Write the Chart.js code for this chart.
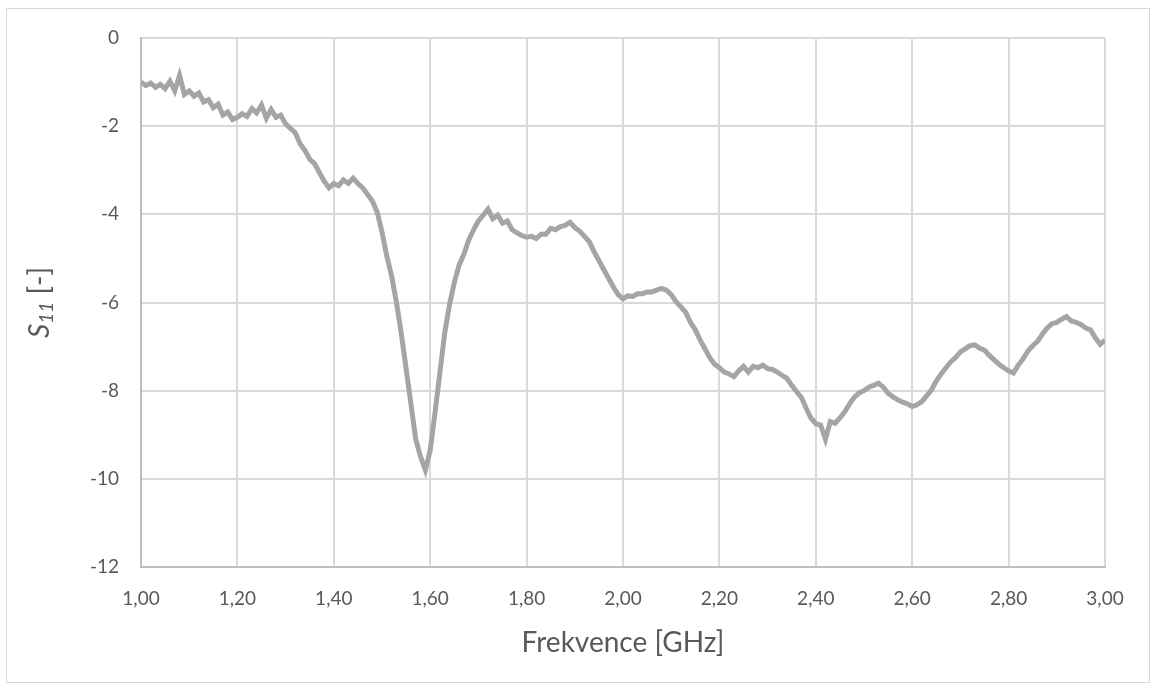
<!DOCTYPE html>
<html>
<head>
<meta charset="utf-8">
<script src="https://cdn.jsdelivr.net/npm/chart.js@4"></script>
<style>
  html, body { margin: 0; padding: 0; background: #fff; }
  #wrap { width: 1156px; height: 688px; position: relative; }
</style>
</head>
<body>
<div id="wrap"><canvas id="s11-chart"></canvas></div>
<script>
// Measured S11 sweep, 1.00 - 3.00 GHz, one reading every 10 MHz
const FREQ_START = 1.0;
const FREQ_STEP = 0.01;
const s11 = [
  -1.00, -1.08, -1.02, -1.12, -1.05, -1.15, -0.98, -1.20, -0.85, -1.28,
  -1.20, -1.32, -1.25, -1.45, -1.40, -1.58, -1.50, -1.75, -1.68, -1.85,
  -1.80, -1.72, -1.78, -1.60, -1.70, -1.52, -1.82, -1.62, -1.80, -1.75,
  -1.95, -2.05, -2.15, -2.40, -2.55, -2.75, -2.85, -3.05, -3.25, -3.40,
  -3.30, -3.35, -3.22, -3.30, -3.18, -3.30, -3.40, -3.55, -3.70, -3.95,
  -4.40, -4.95, -5.40, -6.00, -6.70, -7.50, -8.30, -9.10, -9.50, -9.80,
  -9.35, -8.50, -7.60, -6.70, -6.05, -5.55, -5.15, -4.90, -4.58, -4.35,
  -4.15, -4.02, -3.88, -4.10, -4.02, -4.20, -4.15, -4.35, -4.42, -4.48,
  -4.52, -4.50, -4.55, -4.45, -4.45, -4.32, -4.35, -4.28, -4.25, -4.18,
  -4.30, -4.38, -4.50, -4.62, -4.85, -5.05, -5.25, -5.45, -5.65, -5.82,
  -5.92, -5.85, -5.86, -5.80, -5.80, -5.76, -5.76, -5.72, -5.68, -5.72,
  -5.82, -5.98, -6.10, -6.22, -6.45, -6.62, -6.85, -7.05, -7.25, -7.40,
  -7.48, -7.58, -7.62, -7.68, -7.55, -7.45, -7.58, -7.45, -7.48, -7.42,
  -7.50, -7.52, -7.58, -7.65, -7.72, -7.88, -8.02, -8.15, -8.40, -8.62,
  -8.75, -8.78, -9.10, -8.70, -8.74, -8.62, -8.48, -8.30, -8.15, -8.05,
  -8.00, -7.92, -7.88, -7.83, -7.92, -8.06, -8.14, -8.21, -8.26, -8.30,
  -8.36, -8.32, -8.25, -8.12, -7.98, -7.78, -7.62, -7.48, -7.35, -7.25,
  -7.12, -7.05, -6.98, -6.96, -7.04, -7.08, -7.20, -7.30, -7.40, -7.48,
  -7.55, -7.60, -7.42, -7.28, -7.10, -6.98, -6.88, -6.72, -6.58, -6.48,
  -6.45, -6.38, -6.32, -6.42, -6.45, -6.50, -6.58, -6.62, -6.80, -6.95,
  -6.85
];

const xTitle = 'Frekvence [GHz]';
const FONT = 'Lato, "Open Sans", sans-serif';
const TEXT_COLOR = '#595959';

const points = s11.map((v, i) => ({ x: FREQ_START + i * FREQ_STEP, y: v }));

// axis titles + outer frame (S11 needs italic + subscript, so draw by hand)
const decorations = {
  id: 'decorations',
  afterDraw(chart) {
    const ctx = chart.ctx;
    const area = chart.chartArea;
    ctx.save();

    ctx.strokeStyle = '#D9D9D9';
    ctx.lineWidth = 1;
    ctx.strokeRect(6.5, 8.5, 1143, 674);

    ctx.fillStyle = TEXT_COLOR;
    ctx.textBaseline = 'middle';
    ctx.textAlign = 'center';
    ctx.font = '28px ' + FONT;
    ctx.fillText(xTitle, (area.left + area.right) / 2, 643);

    // y title, rotated
    ctx.translate(40, (area.top + area.bottom) / 2);
    ctx.rotate(-Math.PI / 2);
    const parts = [
      { t: 'S', font: 'italic 28px ' + FONT, dy: 0 },
      { t: '11', font: 'italic 19px ' + FONT, dy: 7 },
      { t: ' [-]', font: '28px ' + FONT, dy: 0 }
    ];
    let total = 0;
    parts.forEach(p => { ctx.font = p.font; total += ctx.measureText(p.t).width; });
    let x = -total / 2;
    ctx.textAlign = 'left';
    parts.forEach(p => {
      ctx.font = p.font;
      ctx.fillText(p.t, x, p.dy);
      x += ctx.measureText(p.t).width;
    });
    ctx.restore();
  }
};

new Chart(document.getElementById('s11-chart'), {
  type: 'line',
  data: {
    datasets: [{
      data: points,
      borderColor: '#A5A5A5',
      borderWidth: 5,
      pointRadius: 0,
      tension: 0,
      fill: false
    }]
  },
  plugins: [decorations],
  options: {
    responsive: true,
    maintainAspectRatio: false,
    animation: false,
    layout: { padding: { top: 38, right: 51, left: 0, bottom: 0 } },
    plugins: {
      legend: { display: false },
      tooltip: { enabled: false }
    },
    scales: {
      x: {
        type: 'linear',
        min: 1,
        max: 3,
        afterFit: (scale) => { scale.height = 121; },
        ticks: {
          stepSize: 0.2,
          padding: 20,
          color: TEXT_COLOR,
          font: { family: FONT, size: 19 },
          maxRotation: 0,
          callback: (val) => val.toFixed(2).replace('.', ',')
        },
        grid: { color: '#D9D9D9', lineWidth: 2, drawTicks: false },
        border: { color: '#BFBFBF', width: 2 }
      },
      y: {
        min: -12,
        max: 0,
        afterFit: (scale) => { scale.width = 141; },
        ticks: {
          stepSize: 2,
          padding: 22,
          color: TEXT_COLOR,
          font: { family: FONT, size: 19 }
        },
        grid: { color: '#D9D9D9', lineWidth: 2, drawTicks: false },
        border: { color: '#BFBFBF', width: 2 }
      }
    }
  }
});
</script>
</body>
</html>
